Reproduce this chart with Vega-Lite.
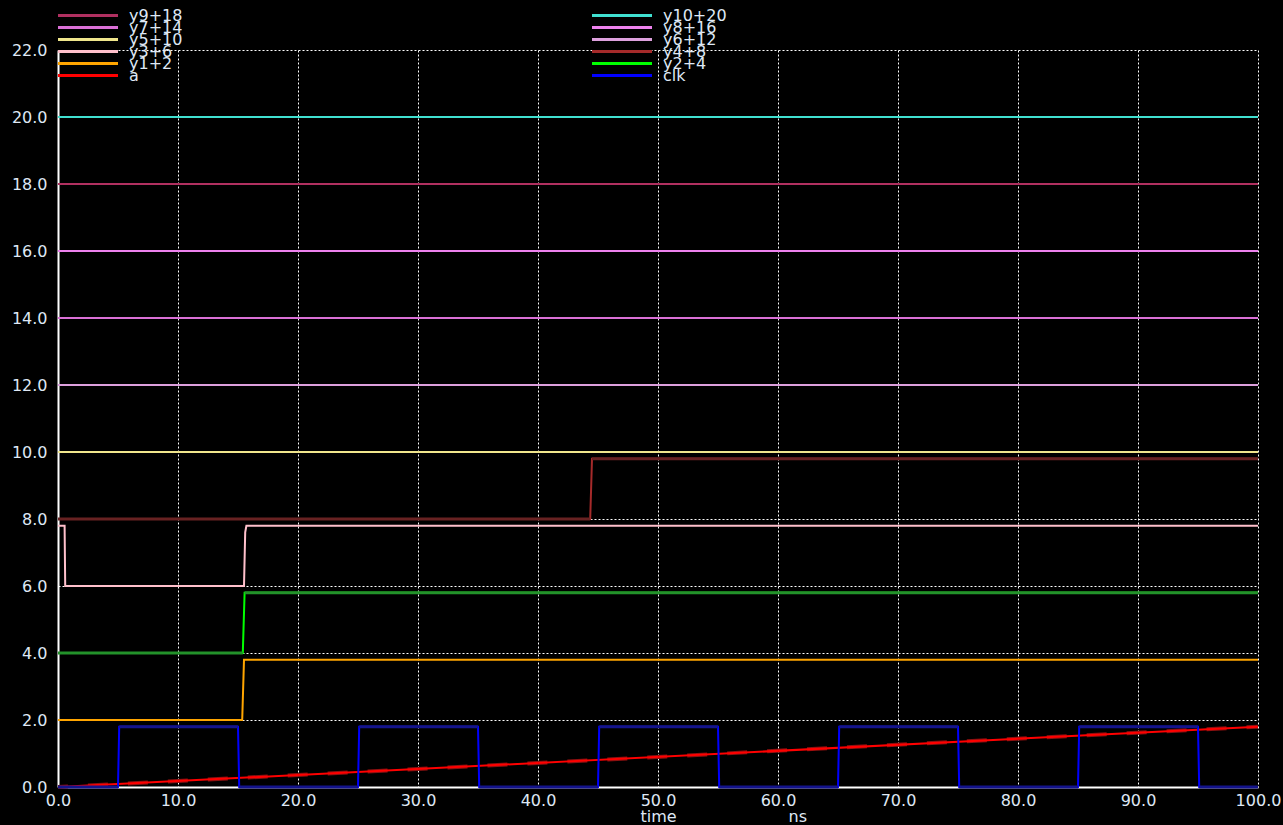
{
  "$schema": "https://vega.github.io/schema/vega-lite/v6.json",
  "width": 1200,
  "height": 737,
  "autosize": {"type": "none"},
  "padding": {"left": 58, "top": 50, "right": 25, "bottom": 38},
  "background": "black",
  "config": {
    "view": {"stroke": null},
    "font": "DejaVu Sans",
    "legend": {
      "orient": "none",
      "title": null,
      "direction": "vertical",
      "padding": 0,
      "symbolType": "M-1,0H9",
      "symbolSize": 144,
      "symbolStrokeWidth": 3,
      "labelFont": "DejaVu Sans",
      "labelFontSize": 16,
      "labelColor": "#dfe8f5",
      "labelOffset": 57,
      "labelLimit": 200
    }
  },
  "datasets": {
    "sig": [
      {"s": "y9+18", "t": 0, "v": 18}, {"s": "y9+18", "t": 100, "v": 18},
      {"s": "y7+14", "t": 0, "v": 14}, {"s": "y7+14", "t": 100, "v": 14},
      {"s": "y5+10", "t": 0, "v": 10}, {"s": "y5+10", "t": 100, "v": 10},
      {"s": "y3+6", "t": 0, "v": 7.8}, {"s": "y3+6", "t": 0.55, "v": 7.8}, {"s": "y3+6", "t": 0.6, "v": 6}, {"s": "y3+6", "t": 15.5, "v": 6}, {"s": "y3+6", "t": 15.6, "v": 7.6}, {"s": "y3+6", "t": 15.7, "v": 7.8}, {"s": "y3+6", "t": 100, "v": 7.8},
      {"s": "y1+2", "t": 0, "v": 2}, {"s": "y1+2", "t": 15.35, "v": 2}, {"s": "y1+2", "t": 15.5, "v": 3.8}, {"s": "y1+2", "t": 100, "v": 3.8},
      {"s": "a", "t": 0, "v": 0}, {"s": "a", "t": 100, "v": 1.8},
      {"s": "y10+20", "t": 0, "v": 20}, {"s": "y10+20", "t": 100, "v": 20},
      {"s": "y8+16", "t": 0, "v": 16}, {"s": "y8+16", "t": 100, "v": 16},
      {"s": "y6+12", "t": 0, "v": 12}, {"s": "y6+12", "t": 100, "v": 12},
      {"s": "y4+8", "t": 0, "v": 8}, {"s": "y4+8", "t": 44.35, "v": 8}, {"s": "y4+8", "t": 44.5, "v": 9.8}, {"s": "y4+8", "t": 100, "v": 9.8},
      {"s": "y2+4", "t": 0, "v": 4}, {"s": "y2+4", "t": 15.4, "v": 4}, {"s": "y2+4", "t": 15.55, "v": 5.8}, {"s": "y2+4", "t": 100, "v": 5.8},
      {"s": "clk", "t": 0, "v": 0}, {"s": "clk", "t": 5.0, "v": 0}, {"s": "clk", "t": 5.1, "v": 1.8}, {"s": "clk", "t": 15.0, "v": 1.8}, {"s": "clk", "t": 15.1, "v": 0},
      {"s": "clk", "t": 25.0, "v": 0}, {"s": "clk", "t": 25.1, "v": 1.8}, {"s": "clk", "t": 35.0, "v": 1.8}, {"s": "clk", "t": 35.1, "v": 0},
      {"s": "clk", "t": 45.0, "v": 0}, {"s": "clk", "t": 45.1, "v": 1.8}, {"s": "clk", "t": 55.0, "v": 1.8}, {"s": "clk", "t": 55.1, "v": 0},
      {"s": "clk", "t": 65.0, "v": 0}, {"s": "clk", "t": 65.1, "v": 1.8}, {"s": "clk", "t": 75.0, "v": 1.8}, {"s": "clk", "t": 75.1, "v": 0},
      {"s": "clk", "t": 85.0, "v": 0}, {"s": "clk", "t": 85.1, "v": 1.8}, {"s": "clk", "t": 95.0, "v": 1.8}, {"s": "clk", "t": 95.1, "v": 0},
      {"s": "clk", "t": 100, "v": 0}
    ],
    "flat": [
      {"s": "clk", "g": 1, "t": 0, "v": 0}, {"s": "clk", "g": 1, "t": 5.0, "v": 0},
      {"s": "clk", "g": 2, "t": 5.1, "v": 1.8}, {"s": "clk", "g": 2, "t": 15.0, "v": 1.8},
      {"s": "clk", "g": 3, "t": 15.1, "v": 0}, {"s": "clk", "g": 3, "t": 25.0, "v": 0},
      {"s": "clk", "g": 4, "t": 25.1, "v": 1.8}, {"s": "clk", "g": 4, "t": 35.0, "v": 1.8},
      {"s": "clk", "g": 5, "t": 35.1, "v": 0}, {"s": "clk", "g": 5, "t": 45.0, "v": 0},
      {"s": "clk", "g": 6, "t": 45.1, "v": 1.8}, {"s": "clk", "g": 6, "t": 55.0, "v": 1.8},
      {"s": "clk", "g": 7, "t": 55.1, "v": 0}, {"s": "clk", "g": 7, "t": 65.0, "v": 0},
      {"s": "clk", "g": 8, "t": 65.1, "v": 1.8}, {"s": "clk", "g": 8, "t": 75.0, "v": 1.8},
      {"s": "clk", "g": 9, "t": 75.1, "v": 0}, {"s": "clk", "g": 9, "t": 85.0, "v": 0},
      {"s": "clk", "g": 10, "t": 85.1, "v": 1.8}, {"s": "clk", "g": 10, "t": 95.0, "v": 1.8},
      {"s": "clk", "g": 11, "t": 95.1, "v": 0}, {"s": "clk", "g": 11, "t": 100, "v": 0},
      {"s": "y2+4", "g": 12, "t": 0, "v": 4}, {"s": "y2+4", "g": 12, "t": 15.4, "v": 4},
      {"s": "y2+4", "g": 13, "t": 15.55, "v": 5.8}, {"s": "y2+4", "g": 13, "t": 100, "v": 5.8},
      {"s": "y4+8", "g": 14, "t": 0, "v": 8}, {"s": "y4+8", "g": 14, "t": 44.35, "v": 8},
      {"s": "y4+8", "g": 15, "t": 44.5, "v": 9.8}, {"s": "y4+8", "g": 15, "t": 100, "v": 9.8}
    ],
    "ramp": [
      {"t": 0, "v": 0}, {"t": 100, "v": 1.8}
    ]
  },
  "data": {"name": "sig"},
  "encoding": {
    "x": {
      "field": "t",
      "type": "quantitative",
      "scale": {"domain": [0, 100], "nice": false, "zero": false},
      "axis": {
        "values": [0, 10, 20, 30, 40, 50, 60, 70, 80, 90, 100],
        "format": ".1f",
        "grid": true,
        "gridColor": "white",
        "gridDash": [2, 2],
        "gridWidth": 1,
        "gridOpacity": 1,
        "ticks": false,
        "domainColor": "white",
        "domainWidth": 2,
        "labelColor": "#dfe8f5",
        "labelFont": "DejaVu Sans",
        "labelFontSize": 16,
        "labelPadding": 5,
        "labelFlush": false,
        "labelOverlap": false,
        "title": "time\u00a0\u00a0\u00a0\u00a0\u00a0\u00a0\u00a0\u00a0\u00a0\u00a0\u00a0\u00a0\u00a0\u00a0\u00a0\u00a0\u00a0\u00a0\u00a0\u00a0\u00a0\u00a0ns",
        "titleColor": "#dfe8f5",
        "titleFont": "DejaVu Sans",
        "titleFontSize": 16,
        "titleFontWeight": "normal",
        "titleAnchor": "start",
        "titleAlign": "left",
        "titleBaseline": "alphabetic",
        "titleX": 582,
        "titleY": 34
      }
    },
    "y": {
      "field": "v",
      "type": "quantitative",
      "scale": {"domain": [0, 22], "nice": false, "zero": false},
      "axis": {
        "values": [0, 2, 4, 6, 8, 10, 12, 14, 16, 18, 20, 22],
        "format": ".1f",
        "grid": true,
        "gridColor": "white",
        "gridDash": [2, 2],
        "gridWidth": 1,
        "gridOpacity": 1,
        "ticks": false,
        "domainColor": "white",
        "domainWidth": 2,
        "labelColor": "#dfe8f5",
        "labelFont": "DejaVu Sans",
        "labelFontSize": 16,
        "labelPadding": 11,
        "labelOverlap": false,
        "title": null
      }
    }
  },
  "layer": [
    {
      "data": {"name": "ramp"},
      "mark": {"type": "line", "color": "#8a1010", "strokeWidth": 4, "strokeDash": [20, 20], "strokeDashOffset": 10}
    },
    {
      "transform": [{"filter": {"field": "s", "equal": "y9+18"}}],
      "mark": {"type": "line", "strokeWidth": 2},
      "encoding": {"color": {"field": "s", "type": "nominal", "scale": {"domain": ["y9+18"], "range": ["#b03060"]}, "legend": {"legendX": -2, "legendY": -42.5}}}
    },
    {
      "transform": [{"filter": {"field": "s", "equal": "y7+14"}}],
      "mark": {"type": "line", "strokeWidth": 2},
      "encoding": {"color": {"field": "s", "type": "nominal", "scale": {"domain": ["y7+14"], "range": ["#da70d6"]}, "legend": {"legendX": -2, "legendY": -30.5}}}
    },
    {
      "transform": [{"filter": {"field": "s", "equal": "y5+10"}}],
      "mark": {"type": "line", "strokeWidth": 2},
      "encoding": {"color": {"field": "s", "type": "nominal", "scale": {"domain": ["y5+10"], "range": ["#f0e68c"]}, "legend": {"legendX": -2, "legendY": -18.5}}}
    },
    {
      "transform": [{"filter": {"field": "s", "equal": "y3+6"}}],
      "mark": {"type": "line", "strokeWidth": 2},
      "encoding": {"color": {"field": "s", "type": "nominal", "scale": {"domain": ["y3+6"], "range": ["#ffc0cb"]}, "legend": {"legendX": -2, "legendY": -6.5}}}
    },
    {
      "transform": [{"filter": {"field": "s", "equal": "y1+2"}}],
      "mark": {"type": "line", "strokeWidth": 2},
      "encoding": {"color": {"field": "s", "type": "nominal", "scale": {"domain": ["y1+2"], "range": ["#ffa500"]}, "legend": {"legendX": -2, "legendY": 5.5}}}
    },
    {
      "transform": [{"filter": {"field": "s", "equal": "a"}}],
      "mark": {"type": "line", "strokeWidth": 2},
      "encoding": {"color": {"field": "s", "type": "nominal", "scale": {"domain": ["a"], "range": ["#ff0000"]}, "legend": {"legendX": -2, "legendY": 17.5}}}
    },
    {
      "transform": [{"filter": {"field": "s", "equal": "y10+20"}}],
      "mark": {"type": "line", "strokeWidth": 2},
      "encoding": {"color": {"field": "s", "type": "nominal", "scale": {"domain": ["y10+20"], "range": ["#40e0d0"]}, "legend": {"legendX": 532, "legendY": -42.5}}}
    },
    {
      "transform": [{"filter": {"field": "s", "equal": "y8+16"}}],
      "mark": {"type": "line", "strokeWidth": 2},
      "encoding": {"color": {"field": "s", "type": "nominal", "scale": {"domain": ["y8+16"], "range": ["#ee82ee"]}, "legend": {"legendX": 532, "legendY": -30.5}}}
    },
    {
      "transform": [{"filter": {"field": "s", "equal": "y6+12"}}],
      "mark": {"type": "line", "strokeWidth": 2},
      "encoding": {"color": {"field": "s", "type": "nominal", "scale": {"domain": ["y6+12"], "range": ["#dda0dd"]}, "legend": {"legendX": 532, "legendY": -18.5}}}
    },
    {
      "transform": [{"filter": {"field": "s", "equal": "y4+8"}}],
      "mark": {"type": "line", "strokeWidth": 2},
      "encoding": {"color": {"field": "s", "type": "nominal", "scale": {"domain": ["y4+8"], "range": ["#a52a2a"]}, "legend": {"legendX": 532, "legendY": -6.5}}}
    },
    {
      "transform": [{"filter": {"field": "s", "equal": "y2+4"}}],
      "mark": {"type": "line", "strokeWidth": 2},
      "encoding": {"color": {"field": "s", "type": "nominal", "scale": {"domain": ["y2+4"], "range": ["#00ff00"]}, "legend": {"legendX": 532, "legendY": 5.5}}}
    },
    {
      "transform": [{"filter": {"field": "s", "equal": "clk"}}],
      "mark": {"type": "line", "strokeWidth": 2},
      "encoding": {"color": {"field": "s", "type": "nominal", "scale": {"domain": ["clk"], "range": ["#0000ff"]}, "legend": {"legendX": 532, "legendY": 17.5}}}
    },
    {
      "data": {"name": "flat"},
      "mark": {"type": "line", "strokeWidth": 3},
      "encoding": {
        "detail": {"field": "g", "type": "nominal"},
        "color": {
          "field": "s",
          "type": "nominal",
          "scale": {
            "domain": ["clk", "y2+4", "y4+8"],
            "range": ["#14148c", "#23922a", "#682222"]
          },
          "legend": null
        }
      }
    }
  ],
  "resolve": {"scale": {"color": "independent"}}
}
